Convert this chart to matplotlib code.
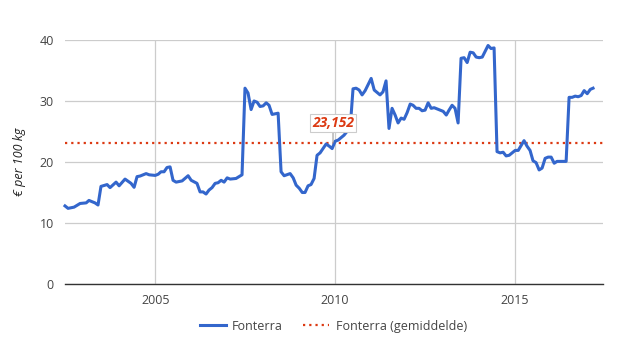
import matplotlib
matplotlib.use("Agg")
import matplotlib.pyplot as plt
import matplotlib.dates as mdates
import pandas as pd

# monthly Fonterra milk price, € per 100 kg
months = [
    "2002-07", "2002-08", "2002-10", "2002-12",
    "2003-02", "2003-03", "2003-05", "2003-06", "2003-07", "2003-09", "2003-10", "2003-12",
    "2004-01", "2004-03", "2004-05", "2004-06", "2004-07", "2004-08", "2004-10", "2004-11",
    "2005-01", "2005-02", "2005-03", "2005-04", "2005-05", "2005-06", "2005-07", "2005-08", "2005-10", "2005-12",
    "2006-01", "2006-03", "2006-04", "2006-05", "2006-06", "2006-07", "2006-08", "2006-09", "2006-10", "2006-11", "2006-12",
    "2007-01", "2007-02", "2007-04", "2007-05", "2007-06", "2007-07", "2007-08", "2007-09", "2007-10", "2007-11", "2007-12",
    "2008-01", "2008-02", "2008-03", "2008-04", "2008-06", "2008-07", "2008-08", "2008-10", "2008-11", "2008-12",
    "2009-01", "2009-02", "2009-03", "2009-04", "2009-05", "2009-06", "2009-07", "2009-08", "2009-10", "2009-11", "2009-12",
    "2010-01", "2010-02", "2010-04", "2010-05", "2010-06", "2010-07", "2010-08", "2010-09", "2010-10", "2010-11",
    "2011-01", "2011-02", "2011-04", "2011-05", "2011-06", "2011-07", "2011-08", "2011-09", "2011-10", "2011-11", "2011-12",
    "2012-01", "2012-02", "2012-03", "2012-04", "2012-05", "2012-06", "2012-07", "2012-08", "2012-09", "2012-10", "2012-12",
    "2013-01", "2013-02", "2013-03", "2013-04", "2013-05", "2013-06", "2013-07", "2013-08", "2013-09", "2013-10", "2013-11", "2013-12",
    "2014-01", "2014-02", "2014-03", "2014-04", "2014-05", "2014-06", "2014-07", "2014-08", "2014-09", "2014-10", "2014-11", "2014-12",
    "2015-01", "2015-02", "2015-04", "2015-05", "2015-06", "2015-07", "2015-08", "2015-09", "2015-10", "2015-11", "2015-12",
    "2016-01", "2016-02", "2016-03", "2016-04", "2016-05", "2016-06", "2016-07", "2016-08", "2016-09", "2016-10", "2016-11", "2016-12",
    "2017-01", "2017-02", "2017-03",
]
prices = [
    12.8, 12.4, 12.6, 13.2,
    13.3, 13.7, 13.3, 12.95, 16.0, 16.3, 15.8, 16.7,
    16.1, 17.2, 16.5, 15.85, 17.6, 17.7, 18.1, 17.9,
    17.8, 18.0, 18.4, 18.4, 19.1, 19.2, 17.0, 16.7, 16.9, 17.75,
    17.0, 16.5, 15.1, 15.1, 14.75, 15.4, 15.8, 16.5, 16.6, 17.0, 16.7,
    17.4, 17.2, 17.3, 17.6, 17.9, 32.1, 31.3, 28.6, 30.0, 29.8, 29.1,
    29.2, 29.7, 29.3, 27.8, 28.0, 18.4, 17.75, 18.1, 17.4, 16.2,
    15.7, 15.0, 15.0, 16.1, 16.3, 17.3, 21.1, 21.5, 22.95, 22.6, 22.2,
    23.4, 23.6, 24.4, 25.0, 25.3, 32.0, 32.1, 31.8, 31.0, 31.7,
    33.7, 31.8, 31.0, 31.5, 33.3, 25.5, 28.8, 27.7, 26.4, 27.2, 27.0,
    28.1, 29.5, 29.3, 28.8, 28.8, 28.4, 28.5, 29.7, 28.8, 28.9, 28.5,
    28.3, 27.7, 28.5, 29.3, 28.8, 26.4, 37.0, 37.1, 36.3, 38.0, 37.9, 37.2,
    37.1, 37.2, 38.1, 39.1, 38.6, 38.7, 21.7, 21.5, 21.6, 21.0, 21.1, 21.5,
    21.9, 21.9, 23.5, 22.6, 21.9, 20.2, 19.9, 18.7, 19.0, 20.6, 20.8,
    20.8, 19.8, 20.1, 20.1, 20.1, 20.1, 30.6, 30.6, 30.8, 30.7, 30.9, 31.7,
    31.2, 31.9, 32.1,
]
average = 23.152
average_label = "23,152"

y_ticks = [0, 10, 20, 30, 40]
x_tick_years = [2005, 2010, 2015]

BLUE = "#3366cc"
RED = "#dc3912"
GRID = "#cccccc"
TEXT = "#444444"

plt.rcParams["font.family"] = ["Open Sans", "DejaVu Sans"]

dates = pd.to_datetime(months)

fig = plt.figure(figsize=(6.25, 3.5), dpi=100)
ax = fig.add_axes([65 / 625, 66 / 350, 538 / 625, 244 / 350])

ax.plot(dates, prices, color=BLUE, lw=2.2, solid_joinstyle="round",
        clip_on=False, label="Fonterra", zorder=3)
ax.axhline(average, color=RED, lw=1.6, ls=(0, (1, 1.8)),
           label="Fonterra (gemiddelde)", zorder=2)

# label for the average, with a short pointer down to the dotted line
ax.annotate(average_label, xy=(pd.Timestamp("2009-12-10"), average),
            xytext=(0, 9), textcoords="offset points",
            ha="center", va="bottom", color=RED, fontsize=10,
            fontweight="bold", fontstyle="italic",
            bbox=dict(boxstyle="square,pad=0.15", fc="white", ec=GRID, lw=0.8),
            arrowprops=dict(arrowstyle="-", color="#999999", lw=0.8,
                            shrinkA=0, shrinkB=0),
            zorder=5)

ax.set_xlim(pd.Timestamp("2002-07-01"), pd.Timestamp("2017-06-10"))
ax.set_ylim(0, 40)
ax.set_yticks(y_ticks)
ax.set_xticks([pd.Timestamp(f"{y}-01-01") for y in x_tick_years])
ax.xaxis.set_major_formatter(mdates.DateFormatter("%Y"))

ax.grid(True, color=GRID, lw=0.9)
ax.set_axisbelow(True)
for side in ["top", "right", "left"]:
    ax.spines[side].set_visible(False)
ax.spines["bottom"].set_color("#333333")
ax.spines["bottom"].set_linewidth(1.0)
ax.tick_params(length=0, labelsize=9, colors=TEXT, pad=8)
ax.tick_params(axis="x", pad=7)

ax.set_ylabel("€ per 100 kg", fontstyle="italic", fontsize=9, color="#222222",
              labelpad=10)

fig.legend(loc="center", bbox_to_anchor=(0.533, 0.068), ncol=2, frameon=False,
           fontsize=9, handlelength=2.1, columnspacing=1.6, handletextpad=0.5,
           labelcolor=TEXT)

fig.savefig("out.png", dpi=100)
